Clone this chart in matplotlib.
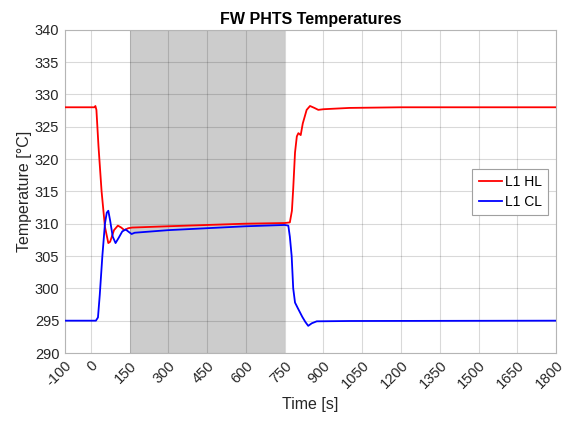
import matplotlib
matplotlib.use("Agg")
import matplotlib.pyplot as plt

plt.rcParams['font.family'] = ['Liberation Sans', 'DejaVu Sans']

# Data
t_hl = [-100, 0, 15, 18, 22, 30, 42, 55, 68, 75, 90, 105, 118, 130, 145, 160,
        300, 450, 600, 750, 770, 778, 783, 790, 797, 803, 812, 820, 835, 848,
        865, 880, 900, 1000, 1200, 1800]
T_hl = [328.0, 328.0, 328.0, 328.2, 327.6, 322.0, 315.0, 309.5, 307.0, 307.2,
        309.0, 309.7, 309.4, 309.0, 309.3, 309.4,
        309.6, 309.8, 310.0, 310.1, 310.2, 312.0, 315.4, 321.0, 323.5, 324.0,
        323.7, 325.5, 327.6, 328.2, 327.9, 327.6, 327.7, 327.9, 328.0, 328.0]

t_cl = [-100, 20, 28, 35, 45, 55, 62, 68, 75, 85, 96, 108, 122, 135, 148, 158,
        170, 300, 450, 600, 750, 764, 770, 777, 783, 790, 800, 809, 818, 830,
        841, 855, 874, 1000, 1800]
T_cl = [295.0, 295.0, 295.5, 299.0, 305.0, 310.0, 311.7, 312.0, 310.5, 308.0,
        307.0, 307.8, 308.8, 309.1, 308.7, 308.4, 308.6, 309.0, 309.3, 309.6,
        309.8, 309.7, 308.0, 305.0, 300.0, 297.8, 297.0, 296.3, 295.6, 294.8,
        294.2, 294.6, 294.9, 294.95, 295.0]

shade_start, shade_end = 150, 750
xticks = [-100, 0, 150, 300, 450, 600, 750, 900, 1050, 1200, 1350, 1500, 1650, 1800]
yticks = [290, 295, 300, 305, 310, 315, 320, 325, 330, 335, 340]

fig = plt.figure(figsize=(5.74, 4.21), dpi=100)
ax = fig.add_axes([0.113, 0.1615, 0.856, 0.768])

ax.axvspan(shade_start, shade_end, facecolor='#cccccc', edgecolor='none', zorder=0.1)
ax.plot(t_hl, T_hl, color='#ff0000', lw=1.3, label='L1 HL', zorder=3)
ax.plot(t_cl, T_cl, color='#0000ff', lw=1.3, label='L1 CL', zorder=3)

ax.set_xlim(-100, 1800)
ax.set_ylim(290, 340)
ax.set_xticks(xticks)
ax.set_yticks(yticks)
ax.set_xticklabels([str(v) for v in xticks], rotation=45, ha='right',
                   rotation_mode='anchor')
ax.set_axisbelow(True)
ax.grid(True, color='black', alpha=0.15, lw=0.8)
ax.tick_params(length=0, labelsize=10.5, colors='#262626', pad=4)
for s in ax.spines.values():
    s.set_color('#b5b5b5')
    s.set_linewidth(0.8)

ax.set_xlabel('Time [s]', fontsize=11.5, color='#262626', labelpad=4)
ax.set_ylabel('Temperature [°C]', fontsize=11.5, color='#262626', labelpad=2)
ax.set_title('FW PHTS Temperatures', fontsize=11.5, fontweight='bold', pad=4)

leg = ax.legend(loc='center right', bbox_to_anchor=(0.984, 0.498), fontsize=10,
                handlelength=1.7, handletextpad=0.2, borderpad=0.45,
                borderaxespad=0, labelspacing=0.45, fancybox=False, framealpha=1)
leg.get_frame().set_edgecolor('#a0a0a0')
leg.get_frame().set_linewidth(0.8)

fig.savefig('out.png', dpi=100)
